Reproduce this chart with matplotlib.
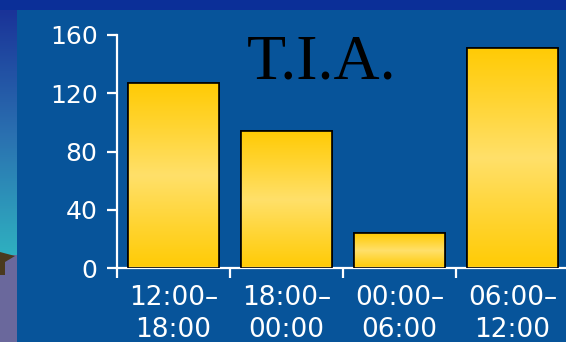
import numpy as np
import matplotlib.pyplot as plt
from matplotlib.colors import LinearSegmentedColormap

categories = ['12:00–\n18:00', '18:00–\n00:00', '00:00–\n06:00', '06:00–\n12:00']
values = [127, 94, 24, 151]
yticks = [0, 40, 80, 120, 160]

fig = plt.figure(figsize=(5.66, 3.42), dpi=100)
fig.patch.set_facecolor('#07549a')

# slide background pieces: top band and left strip
bg = fig.add_axes([0, 0, 1, 1], zorder=-5)
bg.set_xlim(0, 566)
bg.set_ylim(342, 0)
bg.axis('off')
bg.add_patch(plt.Rectangle((0, 0), 566, 10, color='#0b2f98', lw=0))
strip = LinearSegmentedColormap.from_list('strip', ['#1a3398', '#2a6fb0', '#2fb0c0'])
grad = np.linspace(0, 1, 256).reshape(-1, 1)
bg.imshow(grad, cmap=strip, extent=(0, 17, 255, 10), aspect='auto')
bg.add_patch(plt.Rectangle((0, 255), 17, 87, color='#6a689c', lw=0))
bg.add_patch(plt.Polygon([(0, 252), (15, 256), (5, 262), (5, 275), (0, 275)],
                         color='#4a3a1e', lw=0))

ax = fig.add_axes([117 / 566, 74 / 342, 452 / 566, 233 / 342])
ax.set_facecolor('none')
x = np.arange(len(values))
bars = ax.bar(x, values, width=0.8, color='#ffcc00', edgecolor='black', linewidth=1.2, zorder=2)

gold = LinearSegmentedColormap.from_list('gold', ['#ffcb05', '#ffd535', '#ffe06a', '#ffd535', '#ffcb05'])
for b in bars:
    x0, y0 = b.get_x(), b.get_y()
    w, h = b.get_width(), b.get_height()
    im = ax.imshow(grad, cmap=gold, extent=(x0, x0 + w, y0, y0 + h),
                   aspect='auto', zorder=2.5, origin='lower')
    im.set_clip_path(b)
    ax.bar(x0 + w / 2, h, width=w, bottom=y0, fill=False,
           edgecolor='black', linewidth=1.2, zorder=3)

ax.set_xlim(-0.5, 3.5)
ax.set_ylim(0, 160)

for s in ['top', 'right']:
    ax.spines[s].set_visible(False)
for s in ['left', 'bottom']:
    ax.spines[s].set_color('white')
    ax.spines[s].set_linewidth(1.6)

ax.set_yticks(yticks)
ax.set_yticklabels([str(v) for v in yticks])
ax.tick_params(axis='y', colors='white', length=7, width=1.6, pad=7, labelsize=18)
ax.set_xticks(np.arange(-0.5, 4, 1))
ax.set_xticklabels([])
ax.set_xticks(x, minor=True)
ax.set_xticklabels(categories, minor=True)
ax.tick_params(axis='x', which='major', colors='white', length=7, width=1.6)
ax.tick_params(axis='x', which='minor', colors='white', length=0, pad=12, labelsize=19)
for lbl in ax.get_xticklabels(minor=True):
    lbl.set_linespacing(1.3)

fig.text(0.569, 0.815, 'T.I.A.', family='Liberation Serif', fontsize=46,
         color='black', ha='center', va='center')

fig.savefig('out.png', dpi=100)
